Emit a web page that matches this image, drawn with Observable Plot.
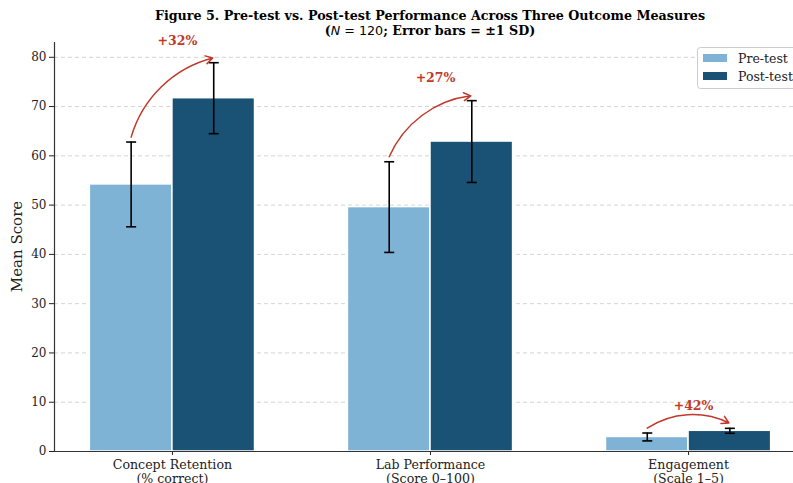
<!DOCTYPE html>
<html>
<head>
<meta charset="utf-8">
<script src="https://cdn.jsdelivr.net/npm/d3@7"></script>
<script src="https://cdn.jsdelivr.net/npm/@observablehq/plot@0.6"></script>
<style>
  html, body { margin: 0; padding: 0; background: #fff; overflow: hidden; width: 793px; height: 483px; }
  #title { position: relative; width: 860px; height: 38px; font-family: "DejaVu Serif", serif; font-weight: bold; color: #000; text-align: center; }
  #title .t1 { position: absolute; left: 0; width: 860px; top: 8px; font-size: 12.7px; }
  #title .t2 { position: absolute; left: 0; width: 860px; top: 23px; font-size: 12.7px; }
  #title .n { font-family: "DejaVu Sans", sans-serif; font-weight: normal; }
  #chart { position: relative; }
  #chart svg { display: block; overflow: visible !important; }
</style>
</head>
<body>
<div id="title">
  <div class="t1">Figure 5. Pre-test vs. Post-test Performance Across Three Outcome Measures</div>
  <div class="t2">(<span class="n"><i>N</i> = 120</span>; Error bars = ±1 SD)</div>
</div>
<div id="chart"></div>
<script>
// ---- data ----
const categories = ["Concept Retention\n(% correct)", "Lab Performance\n(Score 0–100)", "Engagement\n(Scale 1–5)"];
const preMeans = [54.2, 49.6, 2.95];
const preSD = [8.6, 9.2, 0.8];
const postMeans = [71.7, 62.9, 4.2];
const postSD = [7.2, 8.3, 0.5];
const gainLabels = ["+32%", "+27%", "+42%"];
const seriesNames = ["Pre-test", "Post-test"];
const seriesColors = ["#7fb3d5", "#1a5276"];
const yTicks = [0, 10, 20, 30, 40, 50, 60, 70, 80];

const barW = 0.32;
const rows = [];
categories.forEach((c, i) => {
  rows.push({i, series: "Pre-test", x1: i - barW, x2: i, xc: i - barW / 2, mean: preMeans[i], sd: preSD[i]});
  rows.push({i, series: "Post-test", x1: i, x2: i + barW, xc: i + barW / 2, mean: postMeans[i], sd: postSD[i]});
});
const arrows = categories.map((c, i) => ({
  xs: i - barW / 2, ys: preMeans[i] + preSD[i] + 1,
  xe: i + barW / 2, ye: postMeans[i] + postSD[i] + 1,
  lx: i, ly: postMeans[i] + postSD[i] + 4.5, label: gainLabels[i]
}));

const capSymbol = { draw(ctx, size) { ctx.moveTo(-5, 0); ctx.lineTo(5, 0); } };
const serif = "DejaVu Serif, serif";

const plot = Plot.plot({
  width: 793,
  height: 445,
  marginTop: 4,
  marginBottom: 32,
  marginLeft: 54,
  marginRight: 0,
  style: { fontFamily: serif, fontSize: "12px", color: "#222", background: "white", overflow: "visible" },
  x: { domain: [-0.457, 2.457], range: [54, 806], ticks: [0, 1, 2], tickFormat: i => categories[i] },
  y: { domain: [0, 83], ticks: yTicks },
  color: { domain: seriesNames, range: seriesColors },
  marks: [
    Plot.gridY(yTicks.filter(t => t > 0), { stroke: "#bbb", strokeOpacity: 0.8, strokeDasharray: "4,3", strokeWidth: 0.8 }),
    Plot.rectY(rows, { x1: "x1", x2: "x2", y1: 0, y2: "mean", fill: "series", stroke: "white", strokeWidth: 1.5 }),
    Plot.ruleX(rows, { x: "xc", y1: d => d.mean - d.sd, y2: d => d.mean + d.sd, stroke: "black", strokeWidth: 1.6 }),
    Plot.dot(rows, { x: "xc", y: d => d.mean - d.sd, symbol: capSymbol, stroke: "black", strokeWidth: 1.6, fill: "none" }),
    Plot.dot(rows, { x: "xc", y: d => d.mean + d.sd, symbol: capSymbol, stroke: "black", strokeWidth: 1.6, fill: "none" }),
    Plot.arrow(arrows, { x1: "xs", y1: "ys", x2: "xe", y2: "ye", bend: 30, stroke: "#c0392b", strokeWidth: 1.5, headLength: 8, insetEnd: 1 }),
    Plot.text(arrows, { x: "lx", y: "ly", text: "label", fill: "#c0392b", fontWeight: "bold", fontSize: 12.5, dx: 5 }),
    Plot.axisY({ ticks: yTicks, tickSize: 5, tickPadding: 3, fontSize: 12, label: null }),
    Plot.axisX({ ticks: [0, 1, 2], tickFormat: i => categories[i], tickSize: 4, tickPadding: 4, fontSize: 12.6, label: null, lineHeight: 1.1 }),
    Plot.ruleY([0], { stroke: "#333", strokeWidth: 1.2 }),
    Plot.frame({ anchor: "left", stroke: "#333", strokeWidth: 1.2 })
  ]
});
document.getElementById("chart").appendChild(plot);

const svg = d3.select(plot);
// y-axis title
const yPix = plot.scale("y");
svg.append("text")
  .attr("transform", `translate(17, ${(yPix.apply(0) + yPix.apply(83)) / 2}) rotate(-90)`)
  .attr("text-anchor", "middle").attr("dominant-baseline", "central")
  .attr("font-family", serif).attr("font-size", 15).attr("fill", "#222")
  .text("Mean Score");

// legend
const lg = svg.append("g").attr("font-family", serif).attr("font-size", 12.5).attr("text-anchor", "start");
lg.append("rect").attr("x", 697.5).attr("y", 9.5).attr("width", 120).attr("height", 41).attr("rx", 3)
  .attr("fill", "white").attr("fill-opacity", 0.85).attr("stroke", "#ccc");
seriesNames.forEach((s, k) => {
  lg.append("rect").attr("x", 703).attr("y", 16 + k * 18).attr("width", 24).attr("height", 8).attr("fill", seriesColors[k]);
  lg.append("text").attr("x", 738).attr("y", 24.5 + k * 18).attr("fill", "#222").attr("text-anchor", "start").text(s);
});
</script>
</body>
</html>
